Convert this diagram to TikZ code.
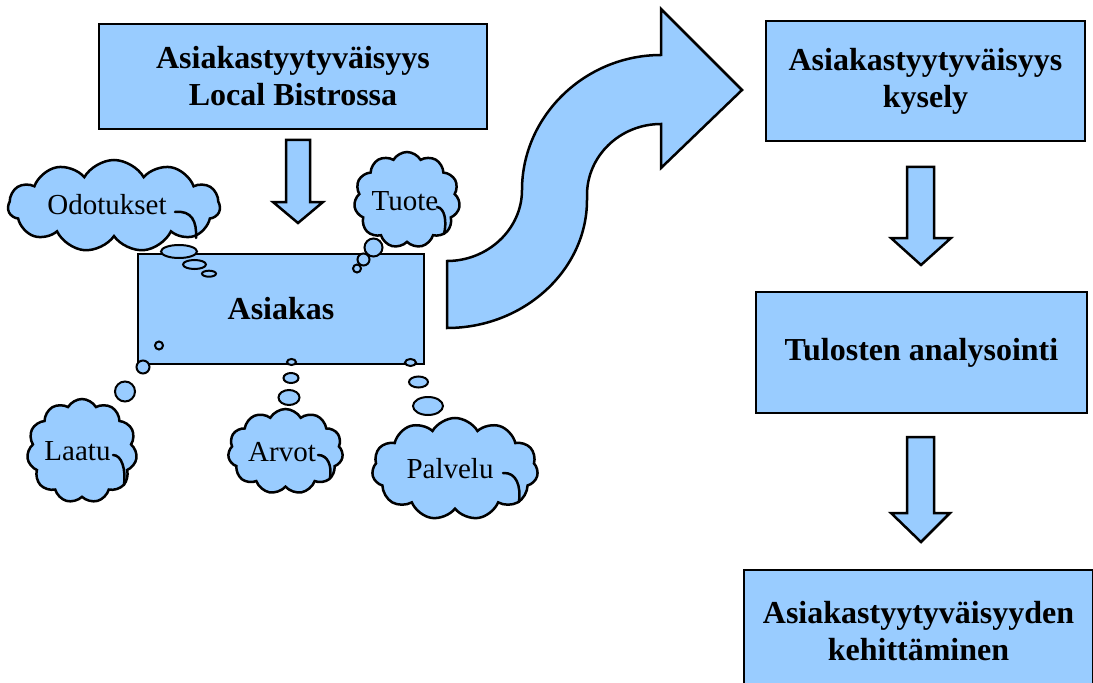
\documentclass[tikz,border=0pt]{standalone}
\usepackage{fontspec}
\setmainfont{Liberation Serif}
\usetikzlibrary{shapes.symbols}
\definecolor{fillblue}{HTML}{99CCFF}
\begin{document}
\begin{tikzpicture}[x=1bp,y=-1bp,
  shapefill/.style={fill=fillblue, draw=black, line width=2.5bp, line join=miter},
  box/.style={shapefill, rectangle, inner sep=0pt, align=center, font=\fontsize{32bp}{37bp}\selectfont\bfseries},
  thought/.style={shapefill, cloud, cloud puffs=11, cloud puff arc=120, cloud ignores aspect, inner sep=0pt},
  cloudtext/.style={font=\fontsize{29bp}{33bp}\selectfont, anchor=base, inner sep=0pt},
  bubble/.style={shapefill, line width=2bp},
  blockarrow/.style={shapefill},
  hook/.style={draw=black, line width=2.5bp, line cap=round}
]
\clip (0,0) rectangle (1093,683);

% left column boxes
\node[box, minimum width=388bp, minimum height=105bp] (bistro) at (293,76.5) {Asiakastyytyväisyys\\Local Bistrossa};
\draw[blockarrow] (286,140) -- (310,140) -- (310,202) -- (323,202) -- (298,223) -- (273,202) -- (286,202) -- cycle;
\node[box, minimum width=286bp, minimum height=110bp] (asiakas) at (281,309) {Asiakas};

% clouds
\node[thought, minimum width=212bp, minimum height=92bp] (codot) at (114,206) {};
\node[cloudtext] (todot) at (107,215) {Odotukset};
\draw[hook] (175,212) .. controls (192,210) and (197,222) .. (196,238);
\node[thought, minimum width=106bp, minimum height=96bp] (ctuote) at (407,200) {};
\node[cloudtext] (ttuote) at (405,211) {Tuote};
\draw[hook] (437,207) .. controls (445,208) and (447,222) .. (444,234);
\node[thought, minimum width=110bp, minimum height=104bp] (claatu) at (82,451) {};
\node[cloudtext] (tlaatu) at (77.5,460) {Laatu};
\draw[hook] (113,455) .. controls (122,455) and (126,470) .. (124,485);
\node[thought, minimum width=115bp, minimum height=85bp] (carvot) at (285.5,451.5) {};
\node[cloudtext] (tarvot) at (282,461) {Arvot};
\draw[hook] (318,455) .. controls (328,455) and (332,466) .. (330,478);
\node[thought, minimum width=166bp, minimum height=102bp] (cpalvelu) at (455,469) {};
\node[cloudtext] (tpalvelu) at (450,478) {Palvelu};
\draw[hook] (503,473) .. controls (517,472) and (521,487) .. (519,502);

% thought bubbles
\draw[bubble] (179,251.5) ellipse (18 and 6.5);
\draw[bubble] (194.5,264.5) ellipse (11.5 and 4.5);
\draw[bubble] (209,273.7) ellipse (7 and 3);
\draw[bubble] (373.5,247.5) circle (9);
\draw[bubble] (363.5,259.5) circle (6);
\draw[bubble] (357,268.5) circle (4);
\draw[bubble] (159,345.5) circle (4);
\draw[bubble] (143,367) circle (6.5);
\draw[bubble] (125,391.5) circle (10);
\draw[bubble] (291.5,362) ellipse (4.5 and 3);
\draw[bubble] (291,378) ellipse (7.5 and 5);
\draw[bubble] (289,397.5) ellipse (10.5 and 7.5);
\draw[bubble] (410.5,362.5) ellipse (5.5 and 3.5);
\draw[bubble] (418.5,382) ellipse (9.5 and 5.5);
\draw[bubble] (428,406) ellipse (15 and 9);

% S-shaped arrow
\draw[blockarrow] (447,261) .. controls (488,261) and (522,229) .. (522,190)
  .. controls (522,116) and (585,55) .. (661,55) -- (661,9) -- (742,90) -- (661,168) -- (661,124)
  .. controls (620,124) and (587,156) .. (587,195) -- (587,200)
  .. controls (587,270) and (524,328) .. (447,328) -- cycle;

% right column
\node[box, minimum width=319bp, minimum height=120bp] (kysely) at (925.5,81) {Asiakastyytyväisyys\\kysely};
\draw[blockarrow] (907,167) -- (934,167) -- (934,238) -- (951,238) -- (921,265) -- (891,238) -- (907,238) -- cycle;
\node[box, minimum width=331bp, minimum height=121bp] (tulosten) at (921.5,352.5) {Tulosten analysointi};
\draw[blockarrow] (907,437) -- (934,437) -- (934,513) -- (950,513) -- (921,542) -- (891,513) -- (907,513) -- cycle;
\node[box, minimum width=349bp, minimum height=122bp] (kehitys) at (918.5,631) {Asiakastyytyväisyyden\\kehittäminen};
\end{tikzpicture}
\end{document}
